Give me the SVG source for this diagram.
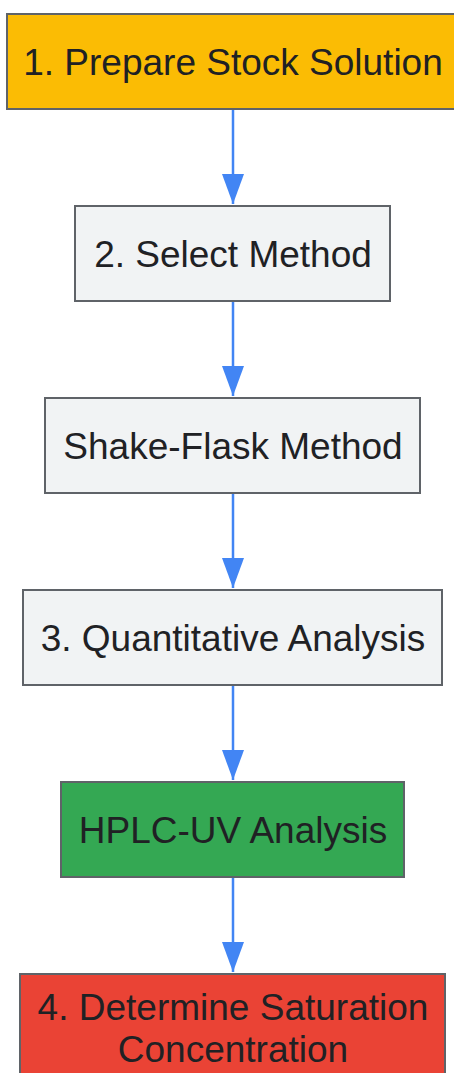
<svg xmlns="http://www.w3.org/2000/svg" width="454" height="1073" viewBox="0 0 454 1073">
<defs>
<style>
.box{stroke:#5f6368;stroke-width:2}
.t{font-family:"Liberation Sans",Arial,sans-serif;font-size:37px;fill:#202124;text-anchor:middle}
.e{stroke:#4285f4;stroke-width:2.5;fill:none}
</style>
<marker id="ah" viewBox="0 0 30 22" refX="30" refY="11" markerWidth="30" markerHeight="22" markerUnits="userSpaceOnUse" orient="auto">
<path d="M0,0 L30,11 L0,22 Z" fill="#4285f4"/>
</marker>
</defs>
<rect width="454" height="1073" fill="#ffffff"/>
<g id="edges">
<line class="e" x1="233" y1="110" x2="233" y2="204" marker-end="url(#ah)"/>
<line class="e" x1="233" y1="302" x2="233" y2="396" marker-end="url(#ah)"/>
<line class="e" x1="233" y1="494" x2="233" y2="588" marker-end="url(#ah)"/>
<line class="e" x1="233" y1="686" x2="233" y2="780" marker-end="url(#ah)"/>
<line class="e" x1="233" y1="878" x2="233" y2="972" marker-end="url(#ah)"/>
</g>
<g id="n1"><rect class="box" x="7" y="14" width="452" height="95" fill="#fbbc04"/><text class="t" x="233" y="75">1. Prepare Stock Solution</text></g>
<g id="n2"><rect class="box" x="75" y="206" width="315" height="95" fill="#f1f3f4"/><text class="t" x="233" y="267">2. Select Method</text></g>
<g id="n3"><rect class="box" x="45" y="398" width="375" height="95" fill="#f1f3f4"/><text class="t" x="233" y="459">Shake-Flask Method</text></g>
<g id="n4"><rect class="box" x="23" y="590" width="419" height="95" fill="#f1f3f4"/><text class="t" x="233" y="651">3. Quantitative Analysis</text></g>
<g id="n5"><rect class="box" x="61" y="782" width="343" height="95" fill="#34a853"/><text class="t" x="233" y="843">HPLC-UV Analysis</text></g>
<g id="n6"><rect class="box" x="20" y="974" width="425" height="120" fill="#ea4335"/><text class="t" x="233" y="1020">4. Determine Saturation</text><text class="t" x="233" y="1062">Concentration</text></g>
</svg>
